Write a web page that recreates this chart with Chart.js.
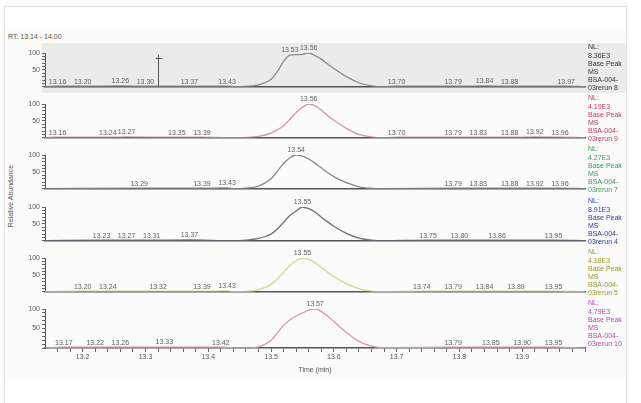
<!DOCTYPE html>
<html>
<head>
<meta charset="utf-8">
<script src="https://cdn.jsdelivr.net/npm/chart.js@4.4.1/dist/chart.umd.min.js"></script>
<style>
  html, body { margin: 0; padding: 0; background: #ffffff; width: 641px; height: 403px; overflow: hidden; }
  body { position: relative; font-family: "Liberation Sans", Arial, sans-serif; }
  #frame { position: absolute; left: 4px; top: 6px; width: 621px; height: 400px; border: 1px solid #e2e2e2; background: #ffffff; }
  #inner { position: absolute; left: 5px; top: 29px; width: 621px; height: 350px; background: #fbfbfb; }
  #sel { position: absolute; left: 42px; top: 43px; width: 584px; height: 50px; background: #ebebeb; }
  #rt { position: absolute; left: 8px; top: 33px; font-size: 7px; color: #555; }
  #ytitle { position: absolute; left: 10px; top: 196px; font-size: 7px; color: #555; transform: translate(-50%, -50%) rotate(-90deg); white-space: nowrap; }
  canvas { position: absolute; left: 0; }
</style>
</head>
<body>
<div id="frame"></div>
<div id="inner"></div>
<div id="sel"></div>
<div id="rt">RT: 13.14 - 14.00</div>
<div id="ytitle">Relative Abundance</div>
<canvas id="c1" width="641" height="51" style="top:42px"></canvas>
<canvas id="c2" width="641" height="51" style="top:93px"></canvas>
<canvas id="c3" width="641" height="51" style="top:144px"></canvas>
<canvas id="c4" width="641" height="51" style="top:196px"></canvas>
<canvas id="c5" width="641" height="51" style="top:247px"></canvas>
<canvas id="c6" width="641" height="76" style="top:298px"></canvas>
<script>
// ---- data ----
const xMin = 13.14;
const xMax = 14.00;
const xTickLabels = [13.2, 13.3, 13.4, 13.5, 13.6, 13.7, 13.8, 13.9];

const peakTimes = [13.44, 13.46, 13.48, 13.50, 13.51, 13.52, 13.53, 13.54, 13.55, 13.56, 13.57, 13.58, 13.59, 13.60, 13.62, 13.64, 13.66, 13.68];
const peak1 = [0.5, 1, 6, 22, 45, 75, 94, 95, 96, 100, 92, 82, 68, 54, 30, 12, 3, 0.5];
const peak2 = [0.5, 1, 4, 14, 24, 36, 55, 75, 90, 100, 95, 82, 66, 52, 28, 10, 3, 0.5];
const peak3 = [0.5, 2, 8, 30, 52, 75, 92, 100, 97, 88, 76, 62, 48, 36, 18, 6, 1.5, 0.5];
const peak4 = [0.5, 2, 7, 20, 35, 55, 75, 88, 100, 95, 85, 70, 56, 43, 22, 8, 2, 0.5];
const peak5 = [0.5, 1, 6, 22, 38, 58, 78, 92, 100, 96, 86, 72, 58, 45, 24, 9, 2, 0.5];
const peak6 = [0.5, 0.5, 3, 20, 38, 58, 72, 82, 90, 97, 100, 94, 82, 68, 40, 17, 5, 1];

const noiseTimes1 = [13.16, 13.20, 13.26, 13.30, 13.37, 13.43, 13.70, 13.79, 13.84, 13.88, 13.97];
const noise1      = [2, 2, 2.5, 2, 2, 2, 2, 2, 2.5, 2, 2];
const noiseTimes2 = [13.16, 13.24, 13.27, 13.35, 13.39, 13.70, 13.79, 13.83, 13.88, 13.92, 13.96];
const noise2      = [2, 2, 2.5, 2, 2, 2, 2, 2, 2, 2.5, 2];
const noiseTimes3 = [13.29, 13.39, 13.43, 13.79, 13.83, 13.88, 13.92, 13.96];
const noise3      = [2, 2, 2.5, 2, 2, 2, 2, 2];
const noiseTimes4 = [13.23, 13.27, 13.31, 13.37, 13.75, 13.80, 13.86, 13.95];
const noise4      = [2, 2, 2, 2.5, 2, 2, 2, 2];
const noiseTimes5 = [13.20, 13.24, 13.32, 13.39, 13.43, 13.74, 13.79, 13.84, 13.89, 13.95];
const noise5      = [2, 2, 2, 2, 2.5, 2, 2, 2, 2, 2];
const noiseTimes6 = [13.17, 13.22, 13.26, 13.33, 13.42, 13.79, 13.85, 13.90, 13.95];
const noise6      = [2, 2, 2, 2.5, 2, 2, 2, 2, 2];

const peakLabels1 = [13.53, 13.56];
const peakLabels2 = [13.56];
const peakLabels3 = [13.54];
const peakLabels4 = [13.55];
const peakLabels5 = [13.55];
const peakLabels6 = [13.57];

const legend1 = ["NL:", "8.36E3", "Base Peak", "MS", "BSA-004-", "03rerun 8"];
const legend2 = ["NL:", "4.19E3", "Base Peak", "MS", "BSA-004-", "03rerun 9"];
const legend3 = ["NL:", "4.27E3", "Base Peak", "MS", "BSA-004-", "03rerun 7"];
const legend4 = ["NL:", "8.91E3", "Base Peak", "MS", "BSA-004-", "03rerun 4"];
const legend5 = ["NL:", "4.18E3", "Base Peak", "MS", "BSA-004-", "03rerun 5"];
const legend6 = ["NL:", "4.79E3", "Base Peak", "MS", "BSA-004-", "03rerun 10"];

const cursorTime = 13.32;
const cursorTop = 95;
const cursorBar = 86;

// ---- build ----
function buildPoints(nt, nv, pv) {
  const pts = [{x: xMin, y: 0.5}, {x: xMax, y: 0.5}];
  nt.forEach((t, i) => pts.push({x: t, y: nv[i]}));
  peakTimes.forEach((t, i) => pts.push({x: t, y: pv[i]}));
  pts.sort((a, b) => a.x - b.x);
  return pts;
}

const labelPlugin = {
  id: 'chromLabels',
  afterDatasetsDraw(chart, args, opts) {
    const ctx = chart.ctx;
    const xs = chart.scales.x, ys = chart.scales.y;
    const data = chart.data.datasets[0].data;
    ctx.save();
    if (opts.cursor) {
      const cx = Math.round(xs.getPixelForValue(cursorTime)) + 0.5;
      ctx.strokeStyle = '#555';
      ctx.lineWidth = 1;
      ctx.beginPath();
      ctx.moveTo(cx, ys.getPixelForValue(0));
      ctx.lineTo(cx, ys.getPixelForValue(cursorTop));
      const by = Math.round(ys.getPixelForValue(cursorBar)) + 0.5;
      ctx.moveTo(cx - 3, by);
      ctx.lineTo(cx + 4, by);
      ctx.stroke();
    }
    ctx.font = '7px "Liberation Sans", Arial, sans-serif';
    ctx.fillStyle = '#606060';
    ctx.textAlign = 'center';
    ctx.textBaseline = 'bottom';
    opts.labels.forEach(t => {
      const p = data.find(d => Math.abs(d.x - t) < 1e-6);
      ctx.fillText(t.toFixed(2), xs.getPixelForValue(t), ys.getPixelForValue(p.y) - 1);
    });
    ctx.textAlign = 'left';
    ctx.textBaseline = 'top';
    ctx.fillStyle = opts.legendColor;
    opts.legend.forEach((s, i) => ctx.fillText(s, chart.chartArea.right + 3, 2 + i * 8.2));
    ctx.restore();
  }
};

const panels = [
  {id: 'c1', nt: noiseTimes1, nv: noise1, pv: peak1, labels: noiseTimes1.concat(peakLabels1), legend: legend1, lc: '#333333', color: '#8a8a8a', cursor: true},
  {id: 'c2', nt: noiseTimes2, nv: noise2, pv: peak2, labels: noiseTimes2.concat(peakLabels2), legend: legend2, lc: '#c0405c', color: '#c99aa4'},
  {id: 'c3', nt: noiseTimes3, nv: noise3, pv: peak3, labels: noiseTimes3.concat(peakLabels3), legend: legend3, lc: '#3a9a5c', color: '#8a8a8a'},
  {id: 'c4', nt: noiseTimes4, nv: noise4, pv: peak4, labels: noiseTimes4.concat(peakLabels4), legend: legend4, lc: '#3040a0', color: '#6e6e7e'},
  {id: 'c5', nt: noiseTimes5, nv: noise5, pv: peak5, labels: noiseTimes5.concat(peakLabels5), legend: legend5, lc: '#9a9a2a', color: '#d6d690'},
  {id: 'c6', nt: noiseTimes6, nv: noise6, pv: peak6, labels: noiseTimes6.concat(peakLabels6), legend: legend6, lc: '#b04cb0', color: '#d59aac', last: true}
];

const font7 = {family: '"Liberation Sans", Arial, sans-serif', size: 7};

panels.forEach(p => {
  const xScale = {
    type: 'linear', min: xMin, max: xMax,
    border: {display: true, color: '#555', width: 1.5},
    grid: {display: !!p.last, drawOnChartArea: false, tickLength: 4, color: '#666'},
    ticks: {display: !!p.last, autoSkip: false, maxRotation: 0, padding: 1, color: '#555', font: font7,
      callback: v => xTickLabels.some(l => Math.abs(l - v) < 1e-6) ? v.toFixed(1) : ''},
    title: {display: !!p.last, text: 'Time (min)', color: '#555', font: font7, padding: {top: 0, bottom: 0}},
    afterBuildTicks: s => {
      const ticks = [];
      for (let k = 1; k <= 43; k++) ticks.push({value: +(xMin + k * 0.02).toFixed(2)});
      s.ticks = ticks;
    },
    afterFit: s => { s.height = p.last ? 26 : 1; }
  };
  new Chart(document.getElementById(p.id), {
    type: 'line',
    data: {datasets: [{data: buildPoints(p.nt, p.nv, p.pv), borderColor: p.color, borderWidth: 1.3,
      pointRadius: 0, cubicInterpolationMode: 'monotone', fill: false}]},
    options: {
      responsive: false, animation: false, devicePixelRatio: 1,
      layout: {padding: {top: 11, right: 56, left: 0, bottom: 0}},
      plugins: {legend: {display: false}, tooltip: {enabled: false},
        chromLabels: {labels: p.labels, legend: p.legend, legendColor: p.lc, cursor: !!p.cursor}},
      scales: {
        x: xScale,
        y: {type: 'linear', min: 0, max: 100,
          border: {display: true, color: '#555', width: 1},
          grid: {display: true, drawOnChartArea: false, tickLength: 3, color: '#666'},
          ticks: {stepSize: 10, autoSkip: false, padding: 2, color: '#555', font: font7,
            callback: v => (v === 50 || v === 100) ? String(v) : ''},
          afterFit: s => { s.width = 45; }
        }
      }
    },
    plugins: [labelPlugin]
  });
});
</script>
</body>
</html>
